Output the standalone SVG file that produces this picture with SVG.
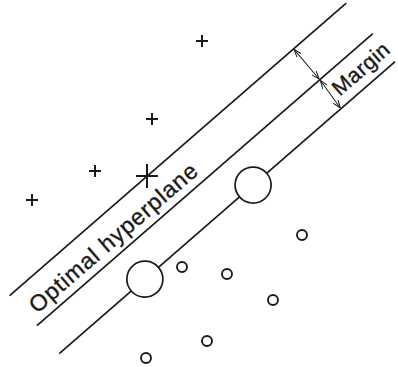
<svg xmlns="http://www.w3.org/2000/svg" width="398" height="367" viewBox="0 0 398 367">
<style>
.ln{stroke:#1a1a1a;stroke-width:1.7;fill:none;stroke-linecap:round}
.pt{stroke:#1a1a1a;stroke-width:2;fill:none}
.sv{stroke:#1a1a1a;stroke-width:1.7;fill:#fff}
.oc{stroke:#1a1a1a;stroke-width:1.9;fill:#fff}
.arr{stroke:#1a1a1a;stroke-width:1;fill:none}
.lbl{font-family:"Liberation Sans",Arial,sans-serif;font-size:23px;fill:#1a1a1a;stroke:#1a1a1a;stroke-width:0.35;letter-spacing:0.9px}
</style>
<defs>
<marker id="ah" viewBox="0 0 8 6" refX="8" refY="3" markerWidth="8" markerHeight="6" markerUnits="userSpaceOnUse" orient="auto-start-reverse">
<path d="M0,0 L8,3 L0,6" fill="none" stroke="#1a1a1a" stroke-width="1"/>
</marker>
</defs>
<g id="connectors" transform="rotate(-41)">
<line id="upper-margin" class="ln" x1="-186" y1="229.5" x2="258.5" y2="229.5"/>
<line id="hyperplane" class="ln" x1="-185" y1="270" x2="258.5" y2="270"/>
<line id="lower-margin" class="ln" x1="-186.5" y1="305.7" x2="257" y2="305.7"/>
<line class="arr" x1="189.5" y1="230.5" x2="189" y2="269" marker-start="url(#ah)" marker-end="url(#ah)"/>
<line class="arr" x1="189" y1="271" x2="186" y2="304.7" marker-start="url(#ah)" marker-end="url(#ah)"/>
</g>
<g id="support-vectors-neg" transform="rotate(-41)">
<circle class="sv" cx="69.6" cy="305.7" r="18"/>
<circle class="sv" cx="-73.8" cy="305.7" r="18"/>
</g>
<g id="labels" transform="rotate(-41)">
<text class="lbl" x="-178" y="261.5">Optimal hyperplane</text>
<text class="lbl" x="193" y="296" style="font-size:21.5px;letter-spacing:0.5px">Margin</text>
</g>
<g id="support-vector-pos">
<path class="pt" d="M136,176 H158 M147,164 V188"/>
</g>
<g id="pos-points">
<path class="pt" d="M196,41 H208 M202,35 V47"/>
<path class="pt" d="M146,119 H158 M152,113 V125"/>
<path class="pt" d="M89,171 H101 M95,165 V177"/>
<path class="pt" d="M26,200 H38 M32,194 V206"/>
</g>
<g id="neg-points">
<circle class="oc" cx="182" cy="267" r="5"/>
<circle class="oc" cx="302" cy="235" r="5"/>
<circle class="oc" cx="227" cy="274" r="5"/>
<circle class="oc" cx="273" cy="300" r="5"/>
<circle class="oc" cx="207" cy="341" r="5"/>
<circle class="oc" cx="146" cy="358" r="5"/>
</g>
</svg>
